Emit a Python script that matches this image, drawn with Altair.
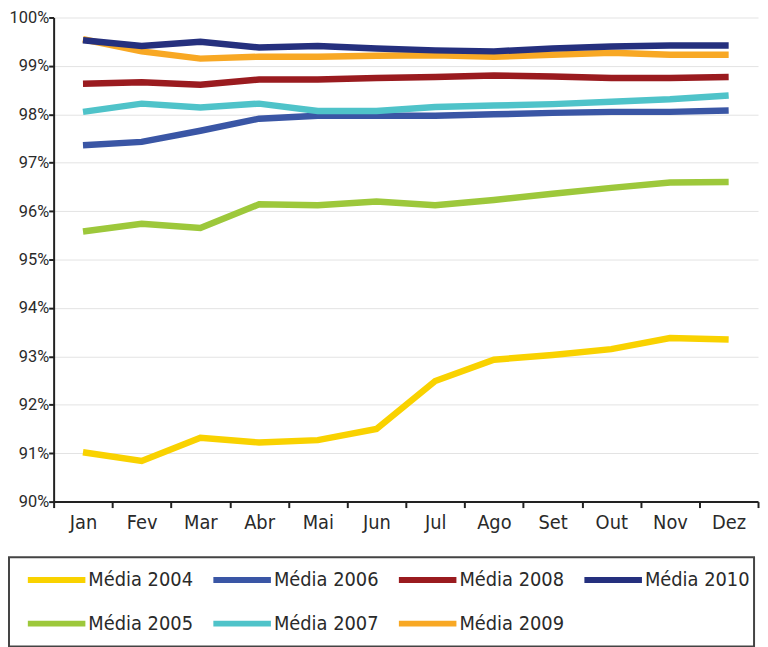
import altair as alt
import pandas as pd

months = ["Jan", "Fev", "Mar", "Abr", "Mai", "Jun", "Jul", "Ago", "Set", "Out", "Nov", "Dez"]

series = ["Média 2004", "Média 2005", "Média 2006", "Média 2007",
          "Média 2008", "Média 2009", "Média 2010"]

v2004 = [91.02, 90.84, 91.32, 91.22, 91.27, 91.50, 92.49, 92.93, 93.03, 93.15, 93.38, 93.35]
v2005 = [95.58, 95.74, 95.65, 96.14, 96.12, 96.20, 96.12, 96.23, 96.36, 96.48, 96.59, 96.60]
v2006 = [97.36, 97.43, 97.66, 97.91, 97.97, 97.97, 97.97, 98.00, 98.03, 98.05, 98.05, 98.08]
v2007 = [98.05, 98.22, 98.14, 98.22, 98.07, 98.07, 98.15, 98.18, 98.21, 98.26, 98.31, 98.39]
v2008 = [98.63, 98.66, 98.61, 98.72, 98.72, 98.75, 98.77, 98.80, 98.78, 98.75, 98.75, 98.77]
v2009 = [99.55, 99.30, 99.15, 99.19, 99.19, 99.21, 99.22, 99.19, 99.23, 99.27, 99.23, 99.23]
v2010 = [99.53, 99.41, 99.50, 99.38, 99.41, 99.36, 99.32, 99.30, 99.36, 99.40, 99.42, 99.42]

values = [v2004, v2005, v2006, v2007, v2008, v2009, v2010]

colors = ["#F9D200", "#9DC83B", "#3A56A5", "#4FC3C9", "#9A1B1F", "#F8A824", "#25307E"]

rows = []
for s, vals in zip(series, values):
    for m, v in zip(months, vals):
        rows.append({"Serie": s, "Mes": m, "Valor": v})
df = pd.DataFrame(rows)

FONT = "DejaVu Sans Condensed, Liberation Sans Narrow, sans-serif"
YFONT = "Roboto, sans-serif"
TXT = "#2a2a2a"

chart = alt.Chart(df).mark_line(strokeWidth=6.5, strokeCap="butt").encode(
    x=alt.X("Mes:N", sort=months,
            scale=alt.Scale(type="band", paddingInner=0, paddingOuter=0),
            axis=alt.Axis(title=None, labelAngle=0, tickBand="extent",
                          domainColor="#222", domainWidth=2,
                          tickColor="#222", tickWidth=2, tickSize=6,
                          labelFont=FONT, labelFontSize=20, labelColor=TXT,
                          labelPadding=5, grid=False)),
    y=alt.Y("Valor:Q",
            scale=alt.Scale(domain=[90, 100], nice=False, zero=False),
            axis=alt.Axis(title=None, values=list(range(90, 101)),
                          labelExpr="datum.value + '%'",
                          domainColor="#222", domainWidth=2,
                          tickColor="#222", tickWidth=2, tickSize=5,
                          labelFont=YFONT, labelFontSize=16.5, labelColor=TXT,
                          labelPadding=0, grid=True, gridColor="#e3e3e3",
                          gridWidth=1)),
    color=alt.Color("Serie:N",
                    scale=alt.Scale(domain=series, range=colors),
                    legend=alt.Legend(title=None, orient="none",
                                      legendX=-45, legendY=544,
                                      columns=4, symbolType="stroke",
                                      symbolSize=3364, symbolStrokeWidth=6,
                                      clipHeight=38, rowPadding=6,
                                      columnPadding=5, symbolOffset=12,
                                      labelOffset=0,
                                      labelFont=FONT, labelFontSize=20,
                                      labelColor=TXT, labelLimit=200,
                                      padding=4, strokeColor="#444",
                                      fillColor="white")),
    detail="Serie:N",
).properties(
    width=710,
    height=488,
    autosize=alt.AutoSizeParams(type="none"),
    padding={"left": 46, "top": 7, "right": 2, "bottom": 144},
    background="white",
).configure_view(stroke=None).configure_legend(strokeWidth=2)

chart.save("out.html", embed_options={"renderer": "svg", "actions": False})
